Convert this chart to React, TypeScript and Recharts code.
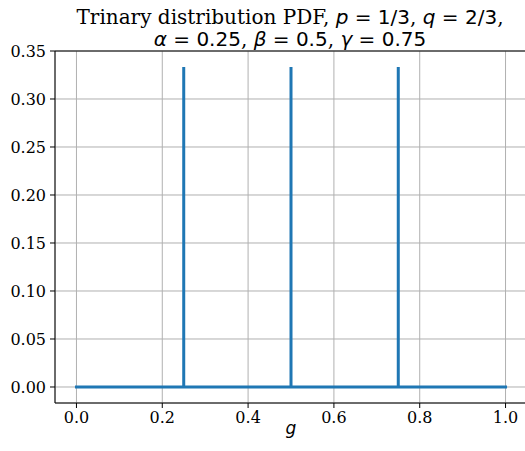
import React from "react"
import { LineChart, Line, XAxis, YAxis, CartesianGrid, ReferenceLine } from "recharts"

// trinary distribution pdf, spikes at alpha, beta, gamma
const gValues = [0, 0.25, 0.25, 0.25, 0.5, 0.5, 0.5, 0.75, 0.75, 0.75, 1.0]
const pdfValues = [0, 0, 0.3333, 0, 0, 0.3333, 0, 0, 0.3333, 0, 0]

const xTicks = [0, 0.2, 0.4, 0.6, 0.8, 1.0]
const yTicks = [0, 0.05, 0.1, 0.15, 0.2, 0.25, 0.3, 0.35]

const xDomain = [-0.05, 1.05]
const yDomain = [-0.01667, 0.35]

const data = gValues.map((g, i) => ({ g, pdf: pdfValues[i] }))

const serif = "'DejaVu Serif', serif"
const sans = "'DejaVu Sans', sans-serif"
const tickStyle = { fontFamily: serif, fontSize: 16, fill: "#000" }

function Title() {
  const it = { fontFamily: sans, fontStyle: "italic" as const }
  const up = { fontFamily: sans }
  return (
    <svg width={525} height={60} style={{ position: "absolute", left: 0, top: 0, pointerEvents: "none" }}>
      <text x={290} y={23.5} textAnchor="middle" fontSize={20} fontFamily={serif} fill="#000">
        Trinary distribution PDF, <tspan {...it}>p</tspan>
        <tspan {...up}> = 1/3</tspan>, <tspan {...it}>q</tspan>
        <tspan {...up}> = 2/3</tspan>,
      </text>
      <text x={290} y={46} textAnchor="middle" fontSize={20} fontFamily={serif} fill="#000">
        <tspan {...it}>α</tspan>
        <tspan {...up}> = 0.25</tspan>, <tspan {...it}>β</tspan>
        <tspan {...up}> = 0.5</tspan>, <tspan {...it}>γ</tspan>
        <tspan {...up}> = 0.75</tspan>
      </text>
    </svg>
  )
}

export default function App() {
  return (
    <div style={{ position: "absolute", left: 0, top: 0, width: 525, height: 451, overflow: "hidden", background: "#fff" }}>
      <LineChart width={535} height={451} data={data} margin={{ top: 51, right: 8, bottom: 0, left: 0 }}>
        <CartesianGrid stroke="#b0b0b0" strokeWidth={1} />
        <XAxis
          dataKey="g"
          type="number"
          domain={xDomain}
          ticks={xTicks}
          allowDataOverflow
          tickFormatter={(v: number) => v.toFixed(1)}
          height={48}
          stroke="#000"
          tickSize={5}
          tickMargin={4}
          tick={tickStyle}
          label={{ value: "g", position: "insideBottom", offset: 17, style: { fontFamily: sans, fontStyle: "italic", fontSize: 17, fill: "#000" } }}
        />
        <YAxis
          type="number"
          domain={yDomain}
          ticks={yTicks}
          allowDataOverflow
          tickFormatter={(v: number) => v.toFixed(2)}
          width={55}
          stroke="#000"
          tickSize={5}
          tickMargin={4}
          tick={tickStyle}
        />
        <ReferenceLine y={0.35} stroke="#000" strokeWidth={1} />
        <ReferenceLine x={1.05} stroke="#000" strokeWidth={1} />
        <Line
          type="linear"
          dataKey="pdf"
          stroke="#1f77b4"
          strokeWidth={3}
          strokeLinecap="square"
          dot={false}
          isAnimationActive={false}
        />
      </LineChart>
      <Title />
    </div>
  )
}
